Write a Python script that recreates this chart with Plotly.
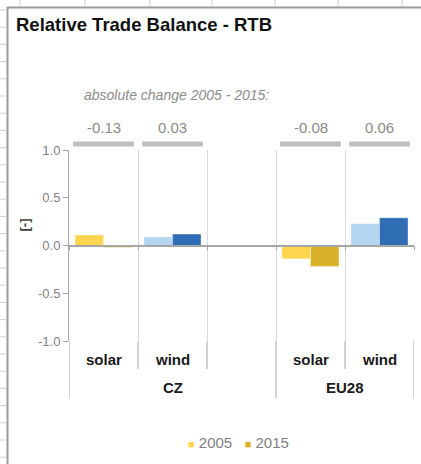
import plotly.graph_objects as go

# ---- data ----
slots = ["solar", "wind", "", "solar", "wind"]          # category slots (slot 2 is the empty spacer)
groups = ["CZ", "EU28"]
group_centers = [1.0, 3.5]
bar_x = [0, 1, 3, 4]
bar_labels = ["solar", "wind", "solar", "wind"]
rtb_2005 = [0.11, 0.09, -0.14, 0.23]
rtb_2015 = [-0.02, 0.12, -0.22, 0.29]
colors_2005 = ["#FFD550", "#B4D6F0", "#FFD550", "#B4D6F0"]
colors_2015 = ["#D9B12B", "#2F6EB5", "#D9B12B", "#2F6EB5"]
years = ["2005", "2015"]
y_tickvals = [1.0, 0.5, 0.0, -0.5, -1.0]
y_ticktext = ["1.0", "0.5", "0.0", "-0.5", "-1.0"]
changes = [b - a for a, b in zip(rtb_2005, rtb_2015)]

W, H = 421, 464
L, R, T, B = 69, 7, 150, 123
PW, PH = W - L - R, H - T - B


def px(xp):
    return (xp - L) / PW


def py(yp):
    return (H - B - yp) / PH


fig = go.Figure()
fig.add_trace(go.Bar(x=bar_x, y=rtb_2005, name=years[0],
                     marker=dict(color=colors_2005, line=dict(width=1, color="rgba(255,255,255,0.35)")),
                     showlegend=False))
fig.add_trace(go.Bar(x=bar_x, y=rtb_2015, name=years[1],
                     marker=dict(color=colors_2015, line=dict(width=1, color="rgba(255,255,255,0.35)")),
                     showlegend=False))

shapes = []
ann = []
gray = "#A6A6A6"
# lower category dividers
for xv in [-0.5, 2.5, 4.5]:
    shapes.append(dict(type="line", xref="x", yref="paper", x0=xv, x1=xv, y0=0, y1=py(398),
                       line=dict(color=gray, width=1)))
for xv in [0.5, 1.5, 3.5]:
    shapes.append(dict(type="line", xref="x", yref="paper", x0=xv, x1=xv, y0=0, y1=py(369),
                       line=dict(color=gray, width=1)))
# gray bars for changes
for xv, ch in zip(bar_x, changes):
    shapes.append(dict(type="rect", xref="x", yref="paper", x0=xv - 0.44, x1=xv + 0.44,
                       y0=py(146.5), y1=py(141.5), fillcolor="#BFBFBF", line=dict(width=0)))
    ann.append(dict(x=xv, y=py(127), xref="x", yref="paper", text=f"{ch:.2f}", showarrow=False,
                    font=dict(size=15, color="#8A8A8A"), xanchor="center", yanchor="middle"))
# category labels
for xv, lab in zip(bar_x, bar_labels):
    ann.append(dict(x=xv, y=py(359), xref="x", yref="paper", text=f"<b>{lab}</b>", showarrow=False,
                    font=dict(size=15, color="#1A1A1A"), xanchor="center", yanchor="middle"))
for xv, g in zip(group_centers, groups):
    ann.append(dict(x=xv, y=py(387), xref="x", yref="paper", text=f"<b>{g}</b>", showarrow=False,
                    font=dict(size=15, color="#1A1A1A"), xanchor="center", yanchor="middle"))
ann.append(dict(x=px(176.5), y=py(95), xref="paper", yref="paper", text="<i>absolute change 2005 - 2015:</i>",
                showarrow=False, font=dict(size=14, color="#8C8C8C"), xanchor="center", yanchor="middle"))
ann.append(dict(x=px(23.5), y=py(225), xref="paper", yref="paper", text="<b>[-]</b>", textangle=-90,
                showarrow=False, font=dict(size=13, color="#404040"), xanchor="center", yanchor="middle"))
# legend (series names with their first colour)
legend_text = "   ".join(
    f'<span style="color:{c[0]};font-size:11px">■</span> {nm}'
    for nm, c in zip(years, [colors_2005, colors_2015]))
ann.append(dict(x=px(238), y=py(442), xref="paper", yref="paper", text=legend_text, showarrow=False,
                font=dict(size=15, color="#7F7F7F"), xanchor="center", yanchor="middle"))

# worksheet frame decorations
shapes.append(dict(type="line", xref="paper", yref="paper", x0=px(7.5), x1=px(7.5), y0=py(7), y1=py(464),
                   line=dict(color="#9A9A9A", width=2)))
shapes.append(dict(type="line", xref="paper", yref="paper", x0=px(7), x1=px(421), y0=py(7.5), y1=py(7.5),
                   line=dict(color="#9A9A9A", width=2)))
k = 10.0
while k < H:
    shapes.append(dict(type="line", xref="paper", yref="paper", x0=px(0), x1=px(6), y0=py(k), y1=py(k),
                       line=dict(color="#D0D0D0", width=1)))
    k += 17.2
for cx in [20, 85, 150, 212, 275, 338, 402]:
    shapes.append(dict(type="line", xref="paper", yref="paper", x0=px(cx), x1=px(cx), y0=py(0), y1=py(6),
                       line=dict(color="#D0D0D0", width=1)))

fig.update_layout(
    width=W, height=H,
    margin=dict(l=L, r=R, t=T, b=B, autoexpand=False),
    paper_bgcolor="white", plot_bgcolor="white",
    font=dict(family="Liberation Sans, Arial, sans-serif"),
    barmode="group", bargap=0.174, bargroupgap=0,
    showlegend=False,
    title=dict(text="<b>Relative Trade Balance - RTB</b>", x=16 / W, xanchor="left", y=1 - 25 / H, yanchor="middle",
               xref="container", yref="container", font=dict(size=18.5, color="#111111")),
    xaxis=dict(range=[-0.5, 4.5], tickvals=[-0.5, 0.5, 1.5, 2.5, 3.5, 4.5], showticklabels=False,
               showgrid=True, gridcolor="#D9D9D9", gridwidth=1, zeroline=False,
               anchor="free", position=0.5, showline=True, linecolor=gray, linewidth=1.5,
               ticks="outside", ticklen=4, tickcolor=gray),
    yaxis=dict(range=[-1, 1], tickvals=y_tickvals, ticktext=y_ticktext, showgrid=False, zeroline=False,
               showline=True, linecolor=gray, linewidth=1, ticks="outside", ticklen=5, tickcolor=gray,
               tickfont=dict(size=13, color="#7F7F8C")),
    shapes=shapes, annotations=ann,
)

fig.write_html("out.html", config={"displayModeBar": False},
               post_script="document.body.style.margin='0';document.body.style.overflow='hidden';")
